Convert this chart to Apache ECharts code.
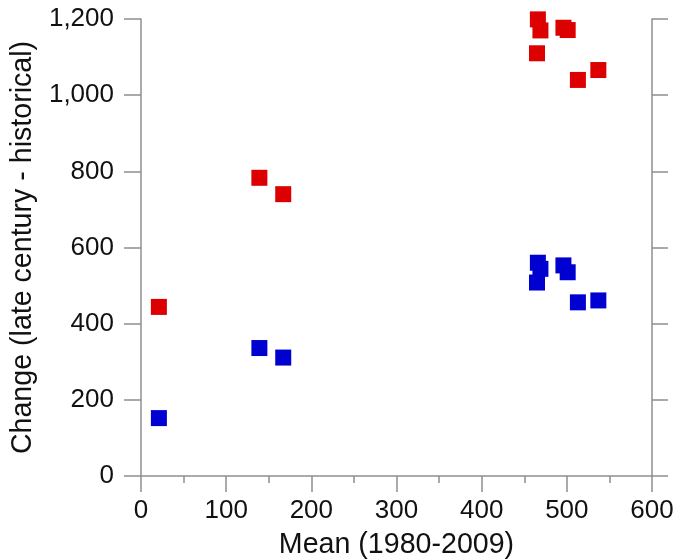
<!DOCTYPE html>
<html>
<head>
<meta charset="utf-8">
<script src="https://cdn.jsdelivr.net/npm/echarts@6/dist/echarts.min.js"></script>
<style>
html,body{margin:0;padding:0;background:#fff;}
#chart{width:686px;height:560px;}
</style>
</head>
<body>
<div id="chart"></div>
<script>
// Data
const meanValues = [21, 139, 167, 465, 466, 469, 496, 501, 513, 537];
const redChange  = [444, 783, 740, 1110, 1199, 1170, 1177, 1171, 1040, 1066];
const blueChange = [152, 336, 311, 508, 560, 544, 553, 535, 456, 461];
const xTicks = [0, 100, 200, 300, 400, 500, 600];
const yTicks = [0, 200, 400, 600, 800, 1000, 1200];

const FONT = '"Liberation Sans", Arial, Helvetica, sans-serif';
const AXIS_COLOR = '#8f8f8f';
const TEXT_COLOR = '#111';

const redPts = meanValues.map((x, i) => [x, redChange[i]]);
const bluePts = meanValues.map((x, i) => [x, blueChange[i]]);

const chart = echarts.init(document.getElementById('chart'), null, {renderer: 'canvas'});
chart.setOption({
  animation: false,
  backgroundColor: '#fff',
  grid: {left: 141, right: 34, top: 19, bottom: 84, containLabel: false, outerBoundsMode: 'none'},
  xAxis: {
    type: 'value',
    min: xTicks[0], max: xTicks[xTicks.length - 1], interval: 100,
    name: 'Mean (1980-2009)',
    nameLocation: 'middle',
    nameGap: 55,
    nameTextStyle: {fontFamily: FONT, fontSize: 28.6, color: TEXT_COLOR},
    axisLine: {show: true, onZero: false, lineStyle: {color: AXIS_COLOR, width: 1.5}},
    axisTick: {show: true, inside: false, length: 16, lineStyle: {color: AXIS_COLOR, width: 1.5}},
    minorTick: {show: true, splitNumber: 2, length: 7, lineStyle: {color: AXIS_COLOR, width: 1.5}},
    axisLabel: {fontFamily: FONT, fontSize: 26, color: TEXT_COLOR, margin: 22},
    splitLine: {show: false}
  },
  yAxis: [{
    type: 'value',
    position: 'left',
    min: yTicks[0], max: yTicks[yTicks.length - 1], interval: 200,
    name: 'Change (late century - historical)',
    nameLocation: 'middle',
    nameGap: 96,
    nameRotate: 90,
    nameTextStyle: {fontFamily: FONT, fontSize: 28.6, color: TEXT_COLOR},
    axisLine: {show: true, lineStyle: {color: AXIS_COLOR, width: 1.5}},
    axisTick: {show: true, inside: false, length: 17, lineStyle: {color: AXIS_COLOR, width: 1.5}},
    axisLabel: {fontFamily: FONT, fontSize: 26, color: TEXT_COLOR, margin: 27,
      formatter: v => v.toLocaleString('en-US')},
    splitLine: {show: false}
  }, {
    type: 'value',
    position: 'right',
    min: yTicks[0], max: yTicks[yTicks.length - 1], interval: 200,
    axisLine: {show: true, lineStyle: {color: AXIS_COLOR, width: 1.5}},
    axisTick: {show: true, inside: false, length: 16, lineStyle: {color: AXIS_COLOR, width: 1.5}},
    axisLabel: {show: false},
    splitLine: {show: false}
  }],
  series: [{
    type: 'scatter',
    name: 'Red',
    yAxisIndex: 0,
    symbol: 'rect',
    symbolSize: 16,
    itemStyle: {color: '#dc0000', opacity: 1},
    data: redPts
  }, {
    type: 'scatter',
    name: 'Blue',
    yAxisIndex: 0,
    symbol: 'rect',
    symbolSize: 16,
    itemStyle: {color: '#0000d0', opacity: 1},
    data: bluePts
  }]
});
</script>
</body>
</html>
